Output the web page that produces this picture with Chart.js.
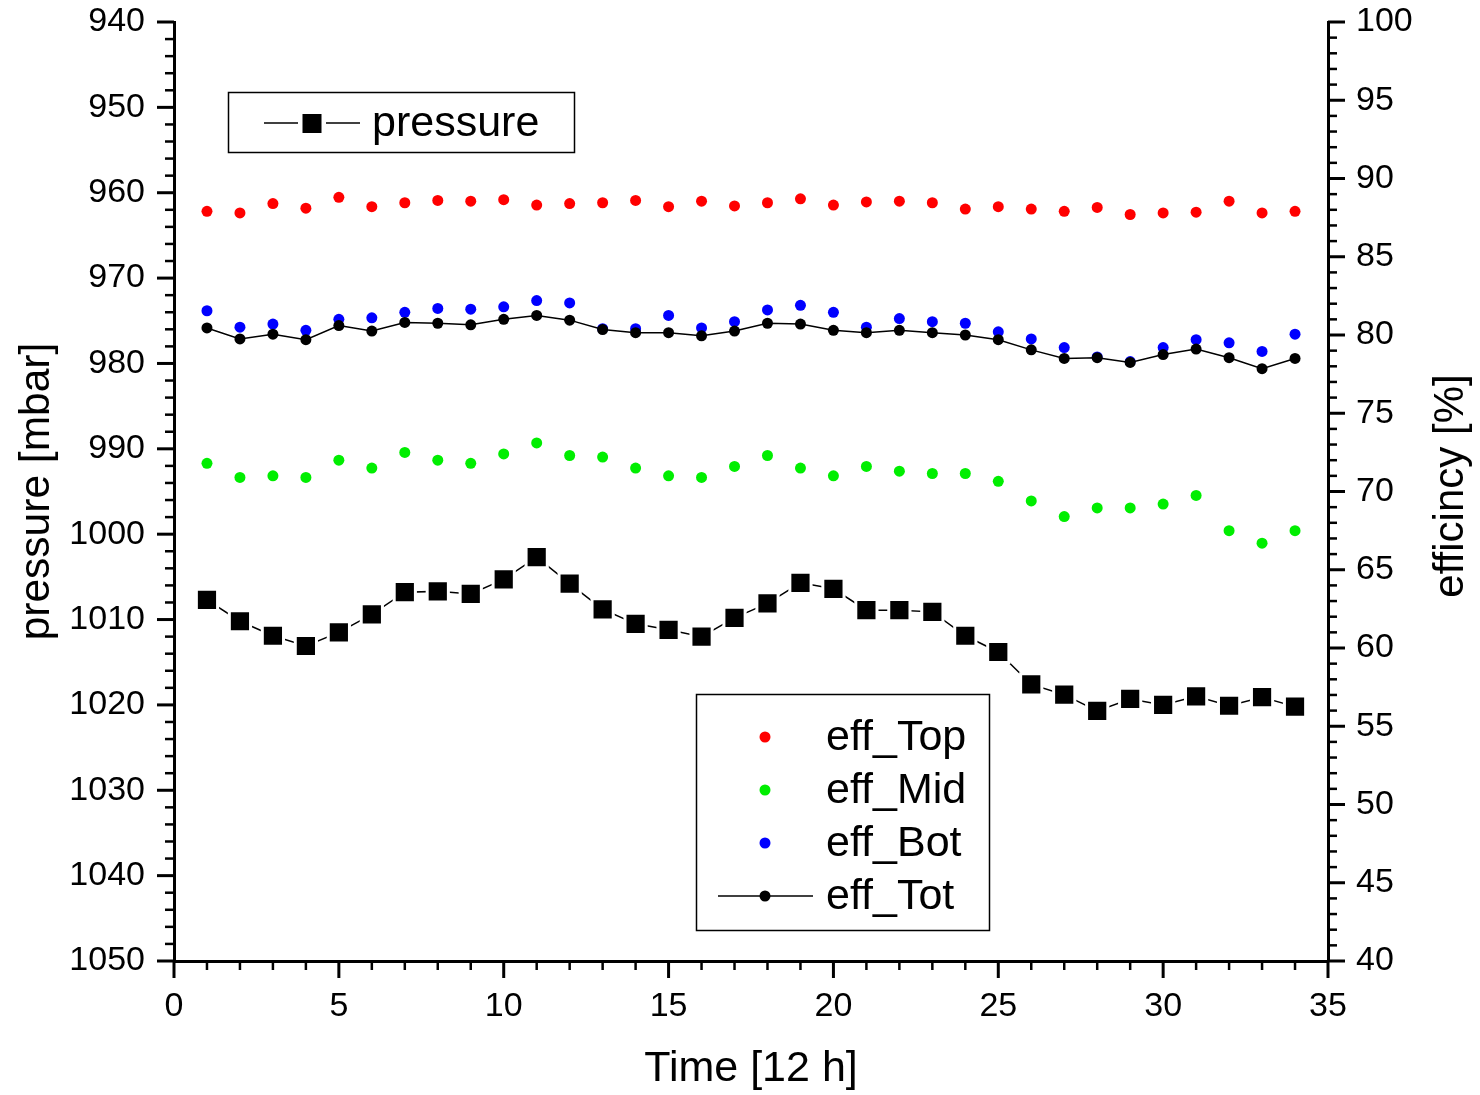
<!DOCTYPE html>
<html lang="en">
<head>
    <meta charset="UTF-8">
    <title>Pressure and efficiency</title>
    <script src="https://cdn.jsdelivr.net/npm/chart.js"></script>
    <style>
        body { margin: 0; background: white; }
        #wrap { width: 1480px; height: 1095px; }
    </style>
</head>
<body>
<div id="wrap"><canvas id="chart" width="1480" height="1095"></canvas></div>
<script>
    // data
    var time = [1, 2, 3, 4, 5, 6, 7, 8, 9, 10, 11, 12, 13, 14, 15, 16, 17, 18, 19, 20,
                21, 22, 23, 24, 25, 26, 27, 28, 29, 30, 31, 32, 33, 34];
    var pressure = [1007.7, 1010.2, 1011.9, 1013.1, 1011.5, 1009.4, 1006.8, 1006.7, 1007.0, 1005.3,
                    1002.7, 1005.8, 1008.8, 1010.5, 1011.2, 1012.0, 1009.8, 1008.1, 1005.7, 1006.4,
                    1008.9, 1008.9, 1009.1, 1011.9, 1013.8, 1017.6, 1018.8, 1020.7, 1019.3, 1020.0,
                    1019.0, 1020.1, 1019.1, 1020.2];
    var effTop = [87.9, 87.8, 88.4, 88.1, 88.8, 88.2, 88.45, 88.6, 88.55, 88.65,
                  88.3, 88.4, 88.45, 88.6, 88.2, 88.55, 88.25, 88.45, 88.7, 88.3,
                  88.5, 88.55, 88.45, 88.05, 88.2, 88.05, 87.9, 88.15, 87.7, 87.8,
                  87.85, 88.55, 87.8, 87.9];
    var effMid = [71.8, 70.9, 71.0, 70.9, 72.0, 71.5, 72.5, 72.0, 71.8, 72.4,
                  73.1, 72.3, 72.2, 71.5, 71.0, 70.9, 71.6, 72.3, 71.5, 71.0,
                  71.6, 71.3, 71.15, 71.15, 70.65, 69.4, 68.4, 68.95, 68.95, 69.2,
                  69.75, 67.5, 66.7, 67.5];
    var effBot = [81.55, 80.5, 80.7, 80.3, 81.0, 81.1, 81.45, 81.7, 81.65, 81.8,
                  82.2, 82.05, 80.4, 80.4, 81.25, 80.45, 80.85, 81.6, 81.9, 81.45,
                  80.5, 81.05, 80.85, 80.75, 80.2, 79.75, 79.2, 78.6, 78.3, 79.2,
                  79.7, 79.5, 78.95, 80.05];
    var effTot = [80.45, 79.75, 80.05, 79.7, 80.6, 80.25, 80.8, 80.75, 80.65, 81.0,
                  81.25, 80.95, 80.35, 80.15, 80.15, 79.95, 80.25, 80.75, 80.7, 80.3,
                  80.15, 80.3, 80.15, 80.0, 79.7, 79.05, 78.5, 78.55, 78.25, 78.75,
                  79.1, 78.55, 77.85, 78.5];

    var xTitle = 'Time [12 h]';
    var yTitle = 'pressure [mbar]';
    var y2Title = 'efficincy [%]';

    var FONT = "'Liberation Sans', Arial, sans-serif";

    function pts(ys) {
        return time.map(function(t, i) { return { x: t, y: ys[i] }; });
    }
    function plain(v) { return String(v); }

    // minor + major ticks, right axis title, the two boxed legends
    var decorations = {
        id: 'decorations',
        afterDraw: function(chart) {
            var ctx = chart.ctx;
            var area = chart.chartArea;
            ctx.save();
            ctx.strokeStyle = '#000';
            ctx.lineCap = 'butt';

            function line(x1, y1, x2, y2, w) {
                ctx.lineWidth = w;
                ctx.beginPath();
                ctx.moveTo(x1, y1);
                ctx.lineTo(x2, y2);
                ctx.stroke();
            }

            var xs = chart.scales.x;
            for (var v = xs.min; v <= xs.max; v += 1) {
                var px = xs.getPixelForValue(v);
                var major = v % 5 === 0;
                line(px, area.bottom, px, area.bottom + (major ? 17 : 9), major ? 3 : 2.5);
            }
            var ys = chart.scales.y;
            for (var p = ys.min; p <= ys.max; p += 2) {
                var py = ys.getPixelForValue(p);
                var maj = p % 10 === 0;
                line(area.left, py, area.left - (maj ? 17 : 9), py, maj ? 3 : 2.5);
            }
            var y2 = chart.scales.y2;
            for (var e = y2.min; e <= y2.max; e += 1) {
                var ey = y2.getPixelForValue(e);
                var m = e % 5 === 0;
                line(area.right, ey, area.right + (m ? 17 : 9), ey, m ? 3 : 2.5);
            }

            // right title reads bottom to top
            ctx.fillStyle = '#000';
            ctx.font = '42px ' + FONT;
            ctx.textAlign = 'center';
            ctx.textBaseline = 'middle';
            ctx.save();
            ctx.translate(1451, 486);
            ctx.rotate(-Math.PI / 2);
            ctx.fillText(y2Title, 0, 0);
            ctx.restore();

            var ds = chart.data.datasets;
            ctx.font = '43px ' + FONT;
            ctx.textAlign = 'left';

            // pressure legend
            ctx.lineWidth = 1.5;
            ctx.strokeRect(228.5, 92.5, 346, 60);
            line(264, 123, 360, 123, 1.5);
            ctx.fillStyle = '#fff';
            ctx.fillRect(298, 110, 28, 28);
            ctx.fillStyle = '#000';
            ctx.fillRect(302.5, 114, 19, 19);
            ctx.fillText(ds[0].label, 372, 124);

            // efficiency legend
            ctx.lineWidth = 1.5;
            ctx.strokeRect(696.5, 694.5, 293, 236);
            var rows = [737, 790, 843, 896];
            for (var i = 1; i <= 4; i++) {
                var d = ds[i];
                var ry = rows[i - 1];
                if (d.showLine !== false) line(718, ry, 813, ry, 1.5);
                ctx.fillStyle = d.pointBackgroundColor;
                ctx.beginPath();
                ctx.arc(765, ry, 5.5, 0, Math.PI * 2);
                ctx.fill();
                ctx.fillStyle = '#000';
                ctx.fillText(d.label, 826, ry + 1);
            }
            ctx.restore();
        }
    };

    var ctx = document.getElementById('chart').getContext('2d');
    var chart = new Chart(ctx, {
        type: 'line',
        data: {
            datasets: [{
                label: 'pressure',
                data: pts(pressure),
                yAxisID: 'y',
                order: 5,
                borderColor: '#000',
                borderWidth: 1.5,
                pointStyle: 'rect',
                pointRadius: 15,
                pointBackgroundColor: '#000',
                pointBorderColor: '#fff',
                pointBorderWidth: 3
            }, {
                label: 'eff_Top',
                data: pts(effTop),
                yAxisID: 'y2',
                order: 4,
                showLine: false,
                pointRadius: 5.5,
                pointBackgroundColor: '#ff0000',
                pointBorderWidth: 0
            }, {
                label: 'eff_Mid',
                data: pts(effMid),
                yAxisID: 'y2',
                order: 3,
                showLine: false,
                pointRadius: 5.5,
                pointBackgroundColor: '#00ee00',
                pointBorderWidth: 0
            }, {
                label: 'eff_Bot',
                data: pts(effBot),
                yAxisID: 'y2',
                order: 2,
                showLine: false,
                pointRadius: 5.5,
                pointBackgroundColor: '#0000ff',
                pointBorderWidth: 0
            }, {
                label: 'eff_Tot',
                data: pts(effTot),
                yAxisID: 'y2',
                order: 1,
                borderColor: '#000',
                borderWidth: 1.5,
                pointRadius: 5.5,
                pointBackgroundColor: '#000',
                pointBorderWidth: 0
            }]
        },
        options: {
            responsive: false,
            animation: false,
            layout: { padding: { top: 22, left: 0, right: 0, bottom: 0 } },
            plugins: { legend: { display: false }, tooltip: { enabled: false } },
            elements: { line: { tension: 0 } },
            scales: {
                x: {
                    type: 'linear',
                    min: 0,
                    max: 35,
                    grid: { display: false, drawTicks: false },
                    border: { color: '#000', width: 3 },
                    ticks: { stepSize: 5, autoSkip: false, maxRotation: 0, padding: 25, color: '#000',
                             callback: plain, font: { family: FONT, size: 34 } },
                    title: { display: true, text: xTitle, color: '#000', padding: { top: 0, bottom: 0 },
                             font: { family: FONT, size: 43 } },
                    afterFit: function(s) { s.height = 134; }
                },
                y: {
                    type: 'linear',
                    position: 'left',
                    min: 940,
                    max: 1050,
                    reverse: true,
                    // invisible tick marks only push the labels away from the axis
                    grid: { display: false, drawTicks: true, tickLength: 29, tickColor: 'transparent' },
                    border: { color: '#000', width: 3 },
                    ticks: { stepSize: 10, autoSkip: false, padding: 0, color: '#000',
                             callback: plain, font: { family: FONT, size: 34 } },
                    title: { display: true, text: yTitle, color: '#000', padding: { top: 12, bottom: 0 },
                             font: { family: FONT, size: 42.5 } },
                    afterFit: function(s) { s.width = 174; }
                },
                y2: {
                    type: 'linear',
                    position: 'right',
                    min: 40,
                    max: 100,
                    grid: { display: false, drawTicks: true, tickLength: 28, tickColor: 'transparent' },
                    border: { color: '#000', width: 3 },
                    ticks: { stepSize: 5, autoSkip: false, padding: 0, color: '#000',
                             callback: plain, font: { family: FONT, size: 34 } },
                    afterFit: function(s) { s.width = 152; }
                }
            }
        },
        plugins: [decorations]
    });
</script>
</body>
</html>
